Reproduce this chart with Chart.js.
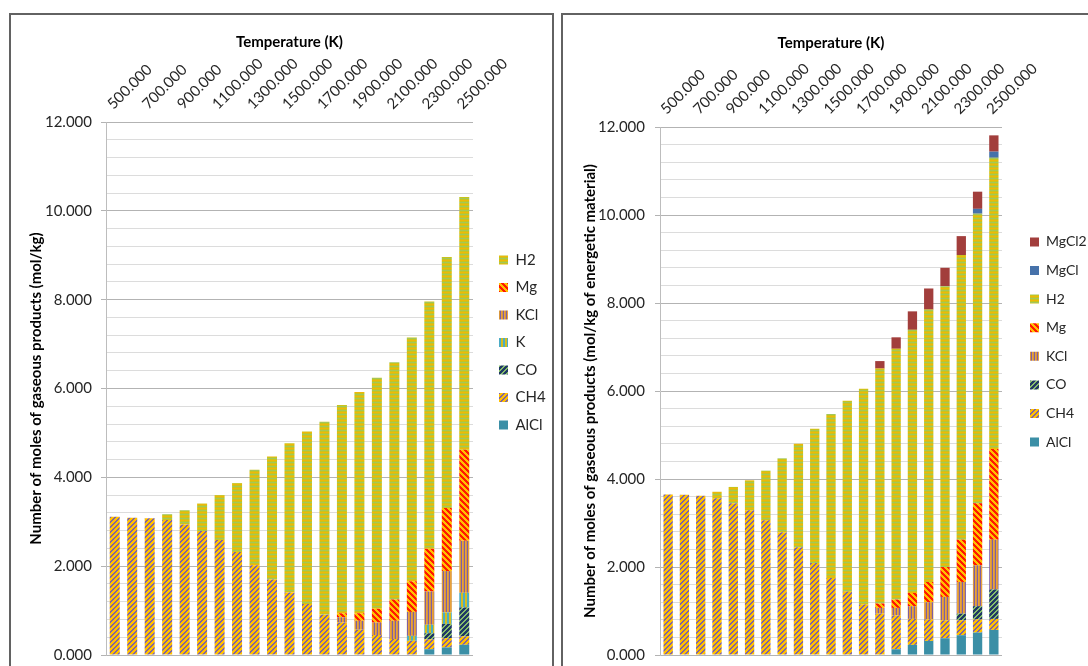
<!DOCTYPE html>
<html>
<head>
<meta charset="utf-8">
<title>Gaseous products vs temperature</title>
<script src="https://cdn.jsdelivr.net/npm/chart.js@4.4.1/dist/chart.umd.min.js"></script>
<style>
  html, body { margin: 0; padding: 0; background: #ffffff; overflow: hidden; width: 1088px; height: 666px; }
  .frame { position: absolute; border: 2px solid #626262; box-sizing: border-box; background: #ffffff; }
  canvas { position: absolute; }
</style>
</head>
<body>
<div class="frame" style="left:9px; top:13px; width:545px; height:690px;"></div>
<div class="frame" style="left:561px; top:13px; width:560px; height:690px;"></div>
<canvas id="chartA" width="540" height="660" style="left:11px; top:15px;"></canvas>
<canvas id="chartB" width="525" height="660" style="left:563px; top:15px;"></canvas>
<script>
// Temperatures (K) of the equilibrium calculations
const temperatures = [500, 600, 700, 800, 900, 1000, 1100, 1200, 1300, 1400, 1500,
                      1600, 1700, 1800, 1900, 2000, 2100, 2200, 2300, 2400, 2500];
const temperatureLabels = temperatures.map(t => t.toFixed(3));

// Left chart: moles of gaseous species (mol/kg)
const leftAlCl = [0, 0, 0, 0, 0, 0, 0, 0, 0, 0, 0, 0, 0, 0, 0, 0, 0, 0, 0.13, 0.17, 0.23];
const leftCH4  = [3.11, 3.09, 3.08, 3.04, 2.94, 2.79, 2.59, 2.32, 2.02, 1.70, 1.41,
                  1.15, 0.91, 0.73, 0.57, 0.45, 0.36, 0.32, 0.22, 0.21, 0.19];
const leftCO   = [0, 0, 0, 0, 0, 0, 0, 0, 0, 0, 0, 0, 0, 0, 0, 0, 0, 0, 0.14, 0.32, 0.65];
const leftK    = [0, 0, 0, 0, 0, 0, 0, 0, 0, 0, 0, 0, 0, 0, 0, 0, 0, 0.11, 0.19, 0.26, 0.33];
const leftKCl  = [0, 0, 0, 0, 0, 0, 0, 0, 0, 0, 0, 0, 0, 0.12, 0.20, 0.28, 0.41, 0.54, 0.75, 0.93, 1.17];
const leftMg   = [0, 0, 0, 0, 0, 0, 0, 0, 0, 0, 0, 0, 0, 0.09, 0.17, 0.31, 0.48, 0.69, 0.96, 1.42, 2.05];
const leftH2   = [0, 0, 0, 0.13, 0.32, 0.62, 1.01, 1.55, 2.15, 2.77, 3.36,
                  3.88, 4.34, 4.69, 4.98, 5.20, 5.34, 5.49, 5.57, 5.65, 5.69];

// Right chart: moles of gaseous species (mol/kg of energetic material)
const rightAlCl  = [0, 0, 0, 0, 0, 0, 0, 0, 0, 0, 0, 0, 0, 0, 0.13, 0.23, 0.32, 0.38, 0.45, 0.51, 0.57];
const rightCH4   = [3.65, 3.64, 3.62, 3.56, 3.45, 3.29, 3.06, 2.79, 2.45, 2.09, 1.75,
                    1.44, 1.15, 0.94, 0.77, 0.59, 0.49, 0.41, 0.34, 0.30, 0.25];
const rightCO    = [0, 0, 0, 0, 0, 0, 0, 0, 0, 0, 0, 0, 0, 0, 0, 0, 0, 0, 0.15, 0.30, 0.67];
const rightKCl   = [0, 0, 0, 0, 0, 0, 0, 0, 0, 0, 0, 0, 0, 0.13, 0.17, 0.29, 0.39, 0.53, 0.72, 0.93, 1.13];
const rightMg    = [0, 0, 0, 0, 0, 0, 0, 0, 0, 0, 0, 0, 0, 0.10, 0.19, 0.30, 0.46, 0.68, 0.96, 1.41, 2.06];
const rightH2    = [0, 0, 0, 0.15, 0.37, 0.68, 1.13, 1.68, 2.35, 3.05, 3.73,
                    4.34, 4.90, 5.34, 5.70, 5.98, 6.19, 6.38, 6.47, 6.58, 6.62];
const rightMgCl  = [0, 0, 0, 0, 0, 0, 0, 0, 0, 0, 0, 0, 0, 0, 0, 0, 0, 0, 0, 0.11, 0.14];
const rightMgCl2 = [0, 0, 0, 0, 0, 0, 0, 0, 0, 0, 0, 0, 0, 0.17, 0.26, 0.42, 0.48, 0.42, 0.43, 0.39, 0.37];

// ---- pattern fills -------------------------------------------------------
function makePattern(w, h, painter) {
  const c = document.createElement('canvas');
  c.width = w; c.height = h;
  const g = c.getContext('2d');
  for (let y = 0; y < h; y++) {
    for (let x = 0; x < w; x++) {
      g.fillStyle = painter(x, y);
      g.fillRect(x, y, 1, 1);
    }
  }
  return g.createPattern(c, 'repeat');
}
const diagUp   = (p, fg, bg, fw) => makePattern(p, p, (x, y) => ((x + y) % p) < fw ? fg : bg);
const diagDown = (p, fg, bg, fw) => makePattern(p, p, (x, y) => ((x - y + p * 10) % p) < fw ? fg : bg);
const vStripes = (cols) => makePattern(cols.length, 1, (x) => cols[x]);
const hStripes = (rows) => makePattern(1, rows.length, (x, y) => rows[y]);

const fills = {
  AlCl:  '#3b8fa6',
  CH4:   diagUp(5, '#8064a2', '#ffc000', 2),
  CO:    diagUp(5, '#1f3864', '#86bd6c', 3),
  K:     vStripes(['#4bacc6', '#4bacc6', '#d6bc1e', '#d6bc1e']),
  KCl:   vStripes(['#7d5fa5', '#e9a23a', '#d8963c']),
  Mg:    diagDown(6, '#ff1a00', '#ffc000', 3),
  H2:    hStripes(['#c9c41b', '#efb60a', '#c9c41b', '#a3c65a']),
  MgCl:  '#4672aa',
  MgCl2: '#a23e3c'
};

// ---- helpers ---------------------------------------------------------------
Chart.defaults.font.family = 'Lato, "Open Sans", "Liberation Sans", sans-serif';
Chart.defaults.color = '#333333';

const isMajor = v => Math.abs(v / 2 - Math.round(v / 2)) < 1e-6;

// Keeps the legend column at a fixed width and nudges it into place
const legendSlot = {
  id: 'legendSlot',
  beforeLayout(chart) {
    const lg = chart.legend;
    if (lg && !lg.__slotted) {
      const baseFit = lg.fit;
      lg.fit = function () {
        baseFit.call(this);
        this.width = chart.options.plugins.legendSlot.width;
      };
      lg.__slotted = true;
    }
  },
  afterLayout(chart, args, opts) {
    const lg = chart.legend;
    if (!lg) return;
    lg.left += opts.dx; lg.right += opts.dx;
    lg.top += opts.dy; lg.bottom += opts.dy;
  }
};

function buildChart(canvasId, sets, cfg) {
  const datasets = sets.map(s => ({
    label: s.label,
    data: s.data,
    backgroundColor: fills[s.label],
    borderWidth: 0,
    categoryPercentage: 1.0,
    barPercentage: 0.572
  }));
  return new Chart(document.getElementById(canvasId), {
    type: 'bar',
    data: { labels: temperatureLabels, datasets },
    plugins: [legendSlot],
    options: {
      responsive: false,
      animation: false,
      devicePixelRatio: 1,
      layout: { padding: { left: 0, right: 0, top: 0, bottom: 20 } },
      scales: {
        x: {
          position: 'top',
          stacked: true,
          afterFit: s => { s.height = cfg.axisHeight; },
          grid: { display: false },
          border: { display: false },
          ticks: {
            autoSkip: false,
            minRotation: 45,
            maxRotation: 45,
            padding: 1,
            labelOffset: 8,
            color: '#262626',
            font: { size: 15 },
            callback: (v, i) => (i % 2 === 0 ? temperatureLabels[i] : '')
          },
          title: {
            display: true,
            text: 'Temperature (K)',
            color: '#000000',
            font: { size: 15, weight: 'bold' },
            padding: { top: cfg.xTitlePad, bottom: 0 }
          }
        },
        y: {
          stacked: true,
          min: 0,
          max: 12,
          afterFit: s => { s.width = cfg.axisWidth; },
          ticks: {
            stepSize: 0.4,
            autoSkip: false,
            padding: cfg.tickPad,
            color: '#262626',
            font: { size: 15 },
            callback: v => (isMajor(v) ? Number(v).toFixed(3) : '')
          },
          grid: {
            color: c => (isMajor(c.tick.value) ? '#b3b3b3' : '#dcdcdc'),
            tickColor: c => (isMajor(c.tick.value) ? '#b3b3b3' : 'rgba(0,0,0,0)'),
            tickLength: 5,
            lineWidth: 1
          },
          border: { display: true, color: '#bdbdbd', width: 1 },
          title: {
            display: true,
            text: cfg.yTitle,
            color: '#000000',
            font: { size: 15, weight: 'bold' },
            padding: { top: cfg.yTitlePad, bottom: 0 }
          }
        }
      },
      plugins: {
        legendSlot: { width: cfg.legendWidth, dx: cfg.legendDx, dy: cfg.legendDy },
        legend: {
          position: 'right',
          align: 'center',
          reverse: true,
          labels: {
            boxWidth: 9,
            boxHeight: 9,
            padding: cfg.legendPad,
            color: '#262626',
            font: { size: cfg.legendFont }
          }
        },
        tooltip: { enabled: false }
      }
    }
  });
}

buildChart('chartA', [
  { label: 'AlCl', data: leftAlCl },
  { label: 'CH4',  data: leftCH4 },
  { label: 'CO',   data: leftCO },
  { label: 'K',    data: leftK },
  { label: 'KCl',  data: leftKCl },
  { label: 'Mg',   data: leftMg },
  { label: 'H2',   data: leftH2 }
], {
  axisWidth: 95, axisHeight: 107, tickPad: 9, yTitlePad: 16.5, xTitlePad: 18,
  yTitle: 'Number of moles of gaseous products (mol/kg)',
  legendWidth: 78, legendDx: 13.5, legendDy: 7.5, legendPad: 12.5, legendFont: 15
});

buildChart('chartB', [
  { label: 'AlCl',  data: rightAlCl },
  { label: 'CH4',   data: rightCH4 },
  { label: 'CO',    data: rightCO },
  { label: 'KCl',   data: rightKCl },
  { label: 'Mg',    data: rightMg },
  { label: 'H2',    data: rightH2 },
  { label: 'MgCl',  data: rightMgCl },
  { label: 'MgCl2', data: rightMgCl2 }
], {
  axisWidth: 97, axisHeight: 112, tickPad: 10, yTitlePad: 18, xTitlePad: 19,
  yTitle: 'Number of moles of gaseous products (mol/kg of energetic material)',
  legendWidth: 86, legendDx: 13.4, legendDy: 7, legendPad: 14.6, legendFont: 14
});
</script>
</body>
</html>
